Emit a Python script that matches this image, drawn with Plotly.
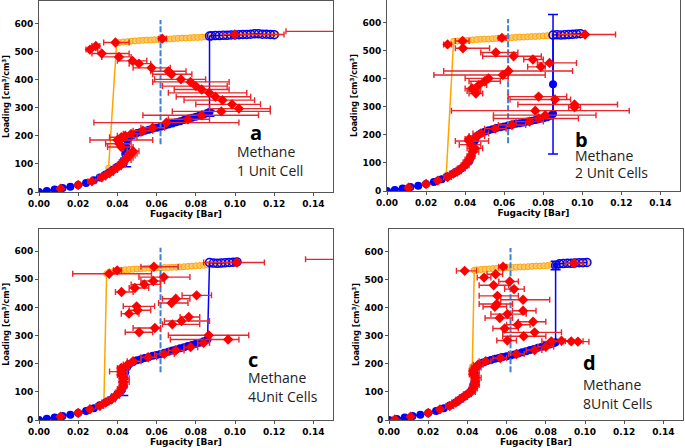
import plotly.graph_objects as go

# ---------------- Panel a : 1 unit cell ----------------
A_ORANGE_X = [0, 0.004, 0.008, 0.012, 0.016, 0.020, 0.024, 0.028, 0.031, 0.034,
              0.0355, 0.0396, 0.041, 0.043, 0.045, 0.047, 0.049, 0.051, 0.053, 0.055,
              0.057, 0.059, 0.061, 0.063, 0.065, 0.067, 0.069, 0.071, 0.073, 0.075,
              0.077, 0.079, 0.081, 0.083, 0.085, 0.087, 0.089, 0.091, 0.093, 0.095,
              0.097, 0.099, 0.101, 0.103, 0.105, 0.107, 0.109, 0.111, 0.113, 0.115,
              0.117, 0.119, 0.121]
A_ORANGE_Y = [0, 4, 9, 14, 19, 25, 32, 42, 52, 62,
              85, 530, 532, 534, 535, 537, 538, 539, 540, 541,
              541, 542, 543, 544, 545, 545, 546, 547, 548, 548,
              549, 550, 550, 551, 552, 553, 554, 554, 555, 556,
              556, 557, 558, 558, 559, 560, 560, 561, 561, 562,
              561, 561, 560]
A_BLUE_X = [0, 0.004, 0.008, 0.012, 0.016, 0.020, 0.024, 0.028, 0.031, 0.034,
            0.036, 0.038, 0.040, 0.042, 0.043, 0.044, 0.0445, 0.045, 0.046, 0.048,
            0.050, 0.052, 0.054, 0.056, 0.058, 0.060, 0.062, 0.064, 0.066, 0.068,
            0.070, 0.072, 0.074, 0.076, 0.078, 0.080, 0.082, 0.084, 0.086, 0.087,
            0.087, 0.088, 0.090, 0.092, 0.094, 0.096, 0.098, 0.100, 0.102, 0.104,
            0.106, 0.108, 0.110, 0.112, 0.114, 0.116, 0.118, 0.120]
A_BLUE_Y = [0, 4, 9, 14, 19, 25, 32, 42, 52, 62,
            70, 80, 90, 100, 110, 135, 160, 185, 195, 203,
            210, 214, 218, 222, 226, 229, 232, 236, 240, 244,
            248, 252, 256, 260, 264, 268, 272, 276, 280, 285,
            555, 556, 557, 557, 558, 558, 559, 559, 560, 561,
            561, 562, 563, 563, 562, 562, 561, 560]
A_BERR_X = [0.0445, 0.087]
A_BERR_Y = [135, 280]
A_BERR_LO = [90, 270]
A_BERR_HI = [182, 291]
A_RED_X = [0.011, 0.020, 0.027, 0.032, 0.034, 0.036, 0.038, 0.040, 0.042, 0.043,
           0.044, 0.045, 0.046, 0.047, 0.048, 0.042, 0.041, 0.040, 0.042, 0.044,
           0.047, 0.053, 0.058, 0.065, 0.076, 0.083, 0.093, 0.102, 0.0985, 0.0936,
           0.090, 0.0868, 0.083, 0.080, 0.0773, 0.0724, 0.0676, 0.066, 0.0574, 0.051,
           0.0477, 0.0408, 0.032, 0.026, 0.029, 0.039, 0.0629, 0.0999, 0.175]
A_RED_Y = [12, 25, 38, 52, 60, 68, 78, 88, 98, 106,
           114, 122, 130, 137, 145, 160, 172, 185, 195, 200,
           207, 218, 229, 247, 259, 273, 287, 297, 312, 327,
           339, 353, 365, 377, 392, 401, 419, 430, 442, 457,
           467, 481, 493, 507, 520, 532, 546, 561, 572]
A_RED_LO = [0.010, 0.019, 0.025, 0.030, 0.032, 0.034, 0.036, 0.038, 0.040, 0.041,
            0.042, 0.043, 0.044, 0.045, 0.045, 0.035, 0.034, 0.026, 0.036, 0.040,
            0.043, 0.048, 0.052, 0.028, 0.066, 0.053, 0.068, 0.087, 0.080, 0.074,
            0.070, 0.066, 0.069, 0.063, 0.058, 0.059, 0.058, 0.057, 0.048, 0.046,
            0.040, 0.032, 0.027, 0.024, 0.027, 0.033, 0.061, 0.094, 0.126]
A_RED_HI = [0.012, 0.021, 0.029, 0.034, 0.036, 0.038, 0.040, 0.042, 0.044, 0.045,
            0.047, 0.048, 0.049, 0.050, 0.051, 0.048, 0.047, 0.058, 0.050, 0.048,
            0.052, 0.058, 0.064, 0.102, 0.087, 0.112, 0.118, 0.118, 0.113, 0.110,
            0.108, 0.106, 0.097, 0.096, 0.097, 0.085, 0.078, 0.075, 0.067, 0.057,
            0.055, 0.047, 0.046, 0.030, 0.031, 0.046, 0.065, 0.125, 0.224]

# ---------------- Panel b : 2 unit cells ----------------
B_ORANGE_X = [0, 0.004, 0.008, 0.012, 0.016, 0.020, 0.024, 0.028, 0.0303, 0.0341,
              0.036, 0.038, 0.040, 0.042, 0.044, 0.046, 0.048, 0.050, 0.052, 0.054,
              0.056, 0.058, 0.060, 0.062, 0.064, 0.066, 0.068, 0.070, 0.072, 0.074,
              0.076, 0.078, 0.080, 0.082, 0.084, 0.086, 0.088, 0.090, 0.092, 0.094,
              0.096, 0.098, 0.100]
B_ORANGE_Y = [0, 4, 9, 14, 19, 25, 32, 42, 55, 533,
              534, 535, 536, 537, 538, 539, 540, 541, 541, 542,
              543, 544, 545, 545, 546, 547, 548, 548, 549, 550,
              550, 551, 552, 553, 553, 554, 555, 555, 556, 557,
              558, 559, 560]
B_BLUE_X = [0, 0.004, 0.008, 0.012, 0.016, 0.020, 0.024, 0.028, 0.031, 0.034,
            0.036, 0.038, 0.040, 0.042, 0.043, 0.044, 0.045, 0.046, 0.048, 0.050,
            0.052, 0.054, 0.056, 0.058, 0.060, 0.062, 0.064, 0.066, 0.068, 0.070,
            0.072, 0.074, 0.076, 0.078, 0.080, 0.082, 0.084, 0.085, 0.085, 0.085,
            0.087, 0.089, 0.091, 0.093, 0.095, 0.097, 0.099]
B_BLUE_Y = [0, 4, 9, 14, 19, 25, 32, 42, 52, 62,
            70, 80, 92, 105, 120, 150, 180, 195, 205, 211,
            216, 220, 224, 227, 230, 233, 237, 239, 241, 244,
            247, 250, 253, 256, 259, 263, 268, 275, 380, 555,
            556, 555, 556, 557, 558, 559, 560]
B_BERR_X = [0.085]
B_BERR_Y = [380]
B_BERR_LO = [132]
B_BERR_HI = [628]
B_RED_X = [0.011, 0.020, 0.026, 0.031, 0.034, 0.036, 0.038, 0.040, 0.041, 0.042,
           0.043, 0.044, 0.045, 0.043, 0.042, 0.042, 0.046, 0.048, 0.0554, 0.064,
           0.073, 0.0776, 0.081, 0.0759, 0.096, 0.096, 0.086, 0.0776, 0.0455, 0.0448,
           0.0435, 0.047, 0.050, 0.052, 0.0593, 0.0622, 0.0832, 0.0788, 0.0747, 0.0648,
           0.0557, 0.0389, 0.0387, 0.031, 0.0588, 0.1014]
B_RED_Y = [12, 25, 37, 50, 62, 70, 80, 92, 102, 112,
           125, 140, 152, 165, 178, 185, 196, 205, 222, 235,
           247, 258, 270, 286, 298, 308, 326, 336, 347, 356,
           365, 377, 391, 401, 413, 427, 456, 442, 468, 480,
           493, 508, 534, 522, 545, 557]
B_RED_LO = [0.010, 0.019, 0.025, 0.029, 0.032, 0.034, 0.036, 0.038, 0.039, 0.040,
            0.041, 0.042, 0.041, 0.037, 0.035, 0.040, 0.042, 0.044, 0.050, 0.057,
            0.066, 0.0545, 0.0545, 0.033, 0.093, 0.067, 0.063, 0.062, 0.042, 0.041,
            0.040, 0.043, 0.042, 0.040, 0.024, 0.029, 0.077, 0.072, 0.070, 0.049,
            0.048, 0.035, 0.035, 0.029, 0.057, 0.088]
B_RED_HI = [0.012, 0.021, 0.027, 0.033, 0.036, 0.038, 0.040, 0.042, 0.043, 0.044,
            0.045, 0.047, 0.049, 0.048, 0.052, 0.045, 0.050, 0.052, 0.061, 0.071,
            0.080, 0.098, 0.107, 0.124, 0.099, 0.118, 0.094, 0.092, 0.049, 0.048,
            0.047, 0.051, 0.058, 0.062, 0.081, 0.095, 0.097, 0.081, 0.080, 0.079,
            0.067, 0.0525, 0.042, 0.033, 0.061, 0.117]

# ---------------- Panel c : 4 unit cells ----------------
C_ORANGE_X = [0, 0.004, 0.008, 0.012, 0.016, 0.020, 0.024, 0.028, 0.031, 0.0331,
              0.0345, 0.036, 0.038, 0.040, 0.042, 0.044, 0.046, 0.048, 0.050, 0.052,
              0.054, 0.056, 0.058, 0.060, 0.062, 0.064, 0.066, 0.068, 0.070, 0.072,
              0.074, 0.076, 0.078, 0.080, 0.082, 0.084, 0.086, 0.088, 0.090, 0.092,
              0.094, 0.096, 0.098, 0.100]
C_ORANGE_Y = [0, 4, 9, 14, 19, 25, 32, 42, 52, 58,
              520, 526, 528, 530, 532, 534, 535, 536, 537, 538,
              539, 540, 540, 541, 541, 542, 542, 543, 543, 544,
              545, 546, 547, 548, 549, 550, 551, 552, 553, 553,
              554, 555, 556, 557]
C_BLUE_X = [0, 0.004, 0.008, 0.012, 0.016, 0.020, 0.024, 0.028, 0.031, 0.034,
            0.036, 0.038, 0.040, 0.042, 0.043, 0.0435, 0.044, 0.045, 0.046, 0.048,
            0.050, 0.052, 0.054, 0.056, 0.058, 0.060, 0.062, 0.064, 0.066, 0.068,
            0.070, 0.072, 0.074, 0.076, 0.078, 0.080, 0.082, 0.084, 0.086, 0.087,
            0.089, 0.091, 0.093, 0.095, 0.097, 0.099, 0.101]
C_BLUE_Y = [0, 4, 9, 14, 19, 25, 32, 42, 52, 62,
            70, 80, 92, 105, 120, 150, 170, 188, 198, 206,
            212, 216, 220, 224, 228, 231, 235, 239, 243, 247,
            251, 255, 259, 263, 267, 271, 275, 280, 287, 560,
            558, 557, 558, 559, 560, 561, 562]
C_BERR_X = [0.043]
C_BERR_Y = [110]
C_BERR_LO = [87]
C_BERR_HI = [135]
C_RED_X = [0.011, 0.020, 0.026, 0.031, 0.034, 0.037, 0.039, 0.041, 0.042, 0.043,
           0.043, 0.043, 0.042, 0.042, 0.042, 0.0452, 0.048, 0.0557, 0.0639, 0.0697,
           0.0773, 0.084, 0.0965, 0.0866, 0.0511, 0.0591, 0.068, 0.0727, 0.0764, 0.0459,
           0.0503, 0.0498, 0.0676, 0.0698, 0.0804, 0.0421, 0.0489, 0.0537, 0.0583, 0.0637,
           0.0358, 0.0399, 0.0586, 0.101, 0.165]
C_RED_Y = [12, 25, 38, 50, 62, 73, 85, 98, 110, 122,
           135, 148, 160, 172, 185, 197, 209, 223, 235, 247,
           259, 274, 286, 301, 312, 327, 340, 352, 366, 378,
           390, 404, 416, 431, 443, 455, 469, 482, 494, 508,
           520, 532, 545, 560, 571]
C_RED_LO = [0.010, 0.019, 0.025, 0.029, 0.032, 0.035, 0.037, 0.039, 0.040, 0.041,
            0.041, 0.041, 0.040, 0.036, 0.040, 0.043, 0.045, 0.052, 0.059, 0.066,
            0.074, 0.081, 0.067, 0.066, 0.044, 0.048, 0.063, 0.064, 0.072, 0.042,
            0.046, 0.043, 0.061, 0.063, 0.073, 0.039, 0.046, 0.047, 0.052, 0.051,
            0.0172, 0.038, 0.052, 0.084, 0.136]
C_RED_HI = [0.012, 0.021, 0.027, 0.033, 0.036, 0.039, 0.041, 0.043, 0.044, 0.045,
            0.046, 0.046, 0.045, 0.045, 0.046, 0.047, 0.052, 0.060, 0.069, 0.074,
            0.081, 0.087, 0.102, 0.107, 0.058, 0.062, 0.082, 0.087, 0.082, 0.051,
            0.057, 0.059, 0.076, 0.077, 0.088, 0.048, 0.056, 0.062, 0.064, 0.077,
            0.0574, 0.042, 0.071, 0.115, 0.194]

# ---------------- Panel d : 8 unit cells ----------------
D_ORANGE_X = [0, 0.004, 0.008, 0.012, 0.016, 0.020, 0.024, 0.028, 0.031, 0.034,
              0.036, 0.038, 0.040, 0.042, 0.043, 0.0425, 0.0435, 0.045, 0.047, 0.049,
              0.051, 0.053, 0.055, 0.057, 0.059, 0.061, 0.063, 0.065, 0.067, 0.069,
              0.071, 0.073, 0.075, 0.077, 0.079, 0.081, 0.083, 0.085, 0.087, 0.089,
              0.091, 0.093, 0.095, 0.097, 0.099, 0.101]
D_ORANGE_Y = [0, 4, 9, 14, 19, 25, 32, 42, 52, 62,
              72, 82, 92, 105, 125, 190, 533, 535, 536, 537,
              538, 539, 540, 541, 542, 543, 543, 544, 545, 545,
              546, 547, 548, 548, 549, 550, 551, 552, 553, 554,
              555, 556, 557, 558, 559, 560]
D_BLUE_X = [0, 0.004, 0.008, 0.012, 0.016, 0.020, 0.024, 0.028, 0.031, 0.034,
            0.036, 0.038, 0.040, 0.042, 0.043, 0.044, 0.045, 0.046, 0.048, 0.050,
            0.052, 0.054, 0.056, 0.058, 0.060, 0.062, 0.064, 0.066, 0.068, 0.070,
            0.072, 0.074, 0.076, 0.078, 0.080, 0.082, 0.084, 0.085, 0.085, 0.087,
            0.089, 0.091, 0.093, 0.095, 0.097, 0.099, 0.101]
D_BLUE_Y = [0, 4, 9, 14, 19, 25, 32, 42, 52, 62,
            72, 82, 92, 105, 125, 160, 190, 198, 205, 210,
            214, 218, 221, 224, 227, 230, 233, 237, 241, 245,
            249, 253, 257, 261, 265, 269, 273, 277, 550, 556,
            557, 558, 558, 559, 560, 560, 561]
D_BERR_X = [0.085]
D_BERR_Y = [550]
D_BERR_LO = [535]
D_BERR_HI = [565]
D_RED_X = [0.003, 0.011, 0.020, 0.026, 0.031, 0.034, 0.036, 0.038, 0.040, 0.042,
           0.043, 0.044, 0.044, 0.044, 0.043, 0.043, 0.044, 0.0454, 0.0493, 0.0568,
           0.065, 0.0743, 0.080, 0.0828, 0.088, 0.093, 0.0964, 0.0604, 0.0687, 0.0743,
           0.059, 0.0657, 0.0735, 0.0565, 0.0604, 0.0684, 0.054, 0.055, 0.0684, 0.0553,
           0.0638, 0.0534, 0.0616, 0.0485, 0.0544, 0.0386, 0.0582, 0.0944]
D_RED_Y = [2, 12, 25, 38, 50, 62, 72, 82, 92, 100,
           112, 125, 138, 150, 162, 175, 187, 197, 209, 221,
           235, 249, 261, 280, 282, 280, 279, 283, 298, 312,
           326, 339, 350, 363, 377, 389, 403, 413, 428, 442,
           466, 480, 493, 507, 519, 531, 546, 558]
D_RED_LO = [0.002, 0.010, 0.019, 0.025, 0.029, 0.032, 0.034, 0.036, 0.038, 0.040,
            0.041, 0.042, 0.042, 0.042, 0.041, 0.041, 0.042, 0.043, 0.046, 0.053,
            0.061, 0.070, 0.076, 0.078, 0.083, 0.089, 0.092, 0.055, 0.058, 0.058,
            0.053, 0.060, 0.066, 0.049, 0.052, 0.063, 0.048, 0.046, 0.057, 0.046,
            0.059, 0.046, 0.056, 0.045, 0.050, 0.0344, 0.056, 0.090]
D_RED_HI = [0.004, 0.012, 0.021, 0.027, 0.033, 0.036, 0.038, 0.040, 0.042, 0.044,
            0.045, 0.046, 0.046, 0.047, 0.046, 0.046, 0.047, 0.048, 0.052, 0.060,
            0.069, 0.078, 0.084, 0.090, 0.093, 0.099, 0.102, 0.065, 0.080, 0.088,
            0.066, 0.072, 0.080, 0.063, 0.070, 0.075, 0.060, 0.063, 0.082, 0.066,
            0.069, 0.061, 0.066, 0.052, 0.058, 0.0447, 0.060, 0.099]

# shared
VLINE_X = 0.062
VLINE_Y = [170, 612]
X_TICKS = [0, 0.02, 0.04, 0.06, 0.08, 0.10, 0.12, 0.14]
Y_TICKS = [0, 100, 200, 300, 400, 500, 600]
PANEL_LETTERS = ["a", "b", "c", "d"]
PANEL_GAS = ["Methane", "Methane", "Methane", "Methane"]
PANEL_CELLS = ["1 Unit Cell", "2 Unit Cells", "4Unit Cells", "8Unit Cells"]

panels = [
    dict(ox=A_ORANGE_X, oy=A_ORANGE_Y, bx=A_BLUE_X, by=A_BLUE_Y,
         ex=A_BERR_X, ey=A_BERR_Y, elo=A_BERR_LO, ehi=A_BERR_HI,
         rx=A_RED_X, ry=A_RED_Y, rlo=A_RED_LO, rhi=A_RED_HI,
         dom_x=[39/685, 333/685], dom_y=[1-192/448, 1-1/448],
         txt_x=0.0999, let_x=0.1064, let_y=212, m_y=143, c_y=77),
    dict(ox=B_ORANGE_X, oy=B_ORANGE_Y, bx=B_BLUE_X, by=B_BLUE_Y,
         ex=B_BERR_X, ey=B_BERR_Y, elo=B_BERR_LO, ehi=B_BERR_HI,
         rx=B_RED_X, ry=B_RED_Y, rlo=B_RED_LO, rhi=B_RED_HI,
         dom_x=[387/685, 680/685], dom_y=[1-191/448, 1.0],
         txt_x=0.0951, let_x=0.0951, let_y=185, m_y=128, c_y=65),
    dict(ox=C_ORANGE_X, oy=C_ORANGE_Y, bx=C_BLUE_X, by=C_BLUE_Y,
         ex=C_BERR_X, ey=C_BERR_Y, elo=C_BERR_LO, ehi=C_BERR_HI,
         rx=C_RED_X, ry=C_RED_Y, rlo=C_RED_LO, rhi=C_RED_HI,
         dom_x=[39/685, 333/685], dom_y=[1-420/448, 1-228.7/448],
         txt_x=0.1058, let_x=0.1058, let_y=215, m_y=150, c_y=83),
    dict(ox=D_ORANGE_X, oy=D_ORANGE_Y, bx=D_BLUE_X, by=D_BLUE_Y,
         ex=D_BERR_X, ey=D_BERR_Y, elo=D_BERR_LO, ehi=D_BERR_HI,
         rx=D_RED_X, ry=D_RED_Y, rlo=D_RED_LO, rhi=D_RED_HI,
         dom_x=[389/685, 683/685], dom_y=[1-420/448, 1-229/448],
         txt_x=0.0981, let_x=0.0981, let_y=203, m_y=126, c_y=57),
]

ORANGE = "#FFA500"
BLUE = "#0000ff"
RED = "#ff0000"
RED_BAR = "#e8262b"
VLINE_COLOR = "#3f7fd6"

fig = go.Figure()
layout_axes = {}
annotations = []

for i, p in enumerate(panels):
    n = "" if i == 0 else str(i + 1)
    xa, ya = "x" + n, "y" + n

    # orange branch
    fig.add_trace(go.Scatter(
        x=p["ox"], y=p["oy"], mode="lines+markers", xaxis=xa, yaxis=ya,
        line=dict(color=ORANGE, width=1.5),
        marker=dict(size=6, color="rgba(255,200,110,0.9)", line=dict(color=ORANGE, width=1)),
        showlegend=False, hoverinfo="skip"))

    # blue branch: solid circles on the lower branch, open circles on the upper one
    symbols = ["circle" if y < 450 else "circle-open" for y in p["by"]]
    edge_w = [0 if y < 450 else 1.5 for y in p["by"]]
    fig.add_trace(go.Scatter(
        x=p["bx"], y=p["by"], mode="lines+markers", xaxis=xa, yaxis=ya,
        line=dict(color=BLUE, width=1.5),
        marker=dict(size=8, color=BLUE, symbol=symbols, opacity=1,
                    line=dict(color=BLUE, width=edge_w)),
        showlegend=False, hoverinfo="skip"))

    # blue error bars
    fig.add_trace(go.Scatter(
        x=p["ex"], y=p["ey"], mode="markers", xaxis=xa, yaxis=ya,
        marker=dict(size=6, color=BLUE),
        error_y=dict(type="data", symmetric=False,
                     array=[h - y for h, y in zip(p["ehi"], p["ey"])],
                     arrayminus=[y - l for l, y in zip(p["elo"], p["ey"])],
                     color=BLUE, thickness=1.5, width=5),
        showlegend=False, hoverinfo="skip"))

    # vertical dashed line
    fig.add_trace(go.Scatter(
        x=[VLINE_X, VLINE_X], y=VLINE_Y, mode="lines", xaxis=xa, yaxis=ya,
        line=dict(color=VLINE_COLOR, width=2, dash="6px,2px"),
        showlegend=False, hoverinfo="skip"))

    # red points with horizontal error bars
    fig.add_trace(go.Scatter(
        x=p["rx"], y=p["ry"], mode="markers", xaxis=xa, yaxis=ya,
        marker=dict(size=8, color=RED, symbol="diamond"),
        error_x=dict(type="data", symmetric=False,
                     array=[h - x for h, x in zip(p["rhi"], p["rx"])],
                     arrayminus=[x - l for l, x in zip(p["rlo"], p["rx"])],
                     color=RED_BAR, thickness=1.4, width=3),
        showlegend=False, hoverinfo="skip"))

    axis_font = dict(family="DejaVu Sans", size=9, color="black", weight="bold")
    layout_axes["xaxis" + n] = dict(
        domain=p["dom_x"], anchor=ya, range=[0, 0.15], tickvals=X_TICKS,
        tickformat=".2f", showline=True, mirror=True, linecolor="#555", linewidth=1,
        ticks="outside", ticklen=3, tickcolor="#555", showgrid=False, zeroline=False,
        tickfont=axis_font, automargin=False,
        title=dict(text="Fugacity [Bar]", font=axis_font, standoff=2))
    layout_axes["yaxis" + n] = dict(
        domain=p["dom_y"], anchor=xa, range=[0, 680], tickvals=Y_TICKS,
        showline=True, mirror=True, linecolor="#555", linewidth=1,
        ticks="outside", ticklen=3, tickcolor="#555", showgrid=False, zeroline=False,
        tickfont=axis_font, automargin=False,
        title=dict(text="Loading [cm<sup>3</sup>/cm<sup>3</sup>]",
                   font=dict(family="DejaVu Sans", size=8, color="black", weight="bold"),
                   standoff=3))

    annotations.append(dict(x=p["let_x"], y=p["let_y"], xref=xa, yref=ya,
                            text="<b>" + PANEL_LETTERS[i] + "</b>", showarrow=False,
                            xanchor="left", yanchor="middle",
                            font=dict(family="Open Sans", size=20, color="black")))
    annotations.append(dict(x=p["txt_x"], y=p["m_y"], xref=xa, yref=ya,
                            text=PANEL_GAS[i], showarrow=False,
                            xanchor="left", yanchor="middle",
                            font=dict(family="Open Sans", size=14, color="#222")))
    annotations.append(dict(x=p["txt_x"], y=p["c_y"], xref=xa, yref=ya,
                            text=PANEL_CELLS[i], showarrow=False,
                            xanchor="left", yanchor="middle",
                            font=dict(family="Open Sans", size=14, color="#222")))

fig.update_layout(
    width=685, height=448,
    margin=dict(l=0, r=0, t=0, b=0, autoexpand=False),
    paper_bgcolor="white", plot_bgcolor="white",
    showlegend=False,
    annotations=annotations,
    **layout_axes)

fig.write_html("out.html",
               config={"displayModeBar": False},
               post_script="document.body.style.margin='0';document.body.style.overflow='hidden';")
